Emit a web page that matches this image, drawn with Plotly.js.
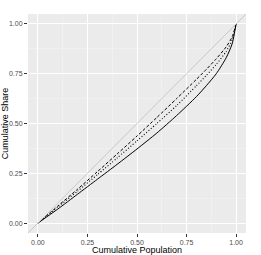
<!DOCTYPE html>
<html><head><meta charset="utf-8">
<script src="https://cdn.plot.ly/plotly-3.0.1.min.js"></script>
<style>html,body{margin:0;padding:0;background:#fff}#chart{width:261px;height:255px}</style>
</head><body><div id="chart"></div>
<script>
const population = [0, 0.1, 0.2, 0.3, 0.4, 0.5, 0.6, 0.7, 0.8, 0.85, 0.9, 0.95, 0.98, 1];
const shareSolid  = [0, 0.07, 0.145, 0.22, 0.295, 0.372, 0.452, 0.54, 0.635, 0.69, 0.75, 0.83, 0.9, 1];
const shareDashed = [0, 0.085, 0.17, 0.258, 0.347, 0.437, 0.53, 0.625, 0.722, 0.772, 0.825, 0.885, 0.935, 1];
const shareDotted = [0, 0.08, 0.16, 0.243, 0.327, 0.413, 0.5, 0.59, 0.69, 0.742, 0.797, 0.862, 0.92, 1];
const tickVals = [0, 0.25, 0.5, 0.75, 1];
const tickText = ["0.00", "0.25", "0.50", "0.75", "1.00"];

function tr(y, dash, w){
  return {x: population, y: y, type: 'scatter', mode: 'lines',
    line: {color: '#000000', width: w, dash: dash, shape: 'spline', smoothing: 0.6},
    hoverinfo: 'skip', showlegend: false};
}
const data = [tr(shareSolid, 'solid', 1), tr(shareDashed, '3px,2px', 1), tr(shareDotted, '1px,2px', 1.1)];

const axisBase = {
  range: [-0.05, 1.05], tickvals: tickVals, ticktext: tickText,
  showgrid: true, gridcolor: '#FFFFFF', gridwidth: 1,
  zeroline: false, showline: false,
  ticks: 'outside', ticklen: 3, tickwidth: 1, tickcolor: '#333333',
  tickfont: {family: 'Liberation Sans, Arial, sans-serif', size: 7, color: '#4D4D4D'},
  minor: {tickvals: [0.125, 0.375, 0.625, 0.875], showgrid: true, gridcolor: '#F5F5F5', gridwidth: 0.5, ticks: ''},
  fixedrange: true
};
const layout = {
  width: 261, height: 255,
  margin: {l: 28, r: 15, t: 14, b: 22},
  paper_bgcolor: '#FFFFFF', plot_bgcolor: '#EBEBEB',
  xaxis: Object.assign({}, axisBase, {
    title: {text: 'Cumulative Population', standoff: 3,
      font: {family: 'Liberation Sans, Arial, sans-serif', size: 9, color: '#000000'}}
  }),
  yaxis: Object.assign({}, axisBase, {
    title: {text: 'Cumulative Share', standoff: 3,
      font: {family: 'Liberation Sans, Arial, sans-serif', size: 9, color: '#000000'}}
  }),
  shapes: [{type: 'line', xref: 'x domain', yref: 'y domain', x0: 0, y0: 0, x1: 1, y1: 1,
    line: {color: '#C8C8C8', width: 1}, layer: 'above'}]
};
Plotly.newPlot('chart', data, layout, {displayModeBar: false, staticPlot: true});
</script></body></html>
